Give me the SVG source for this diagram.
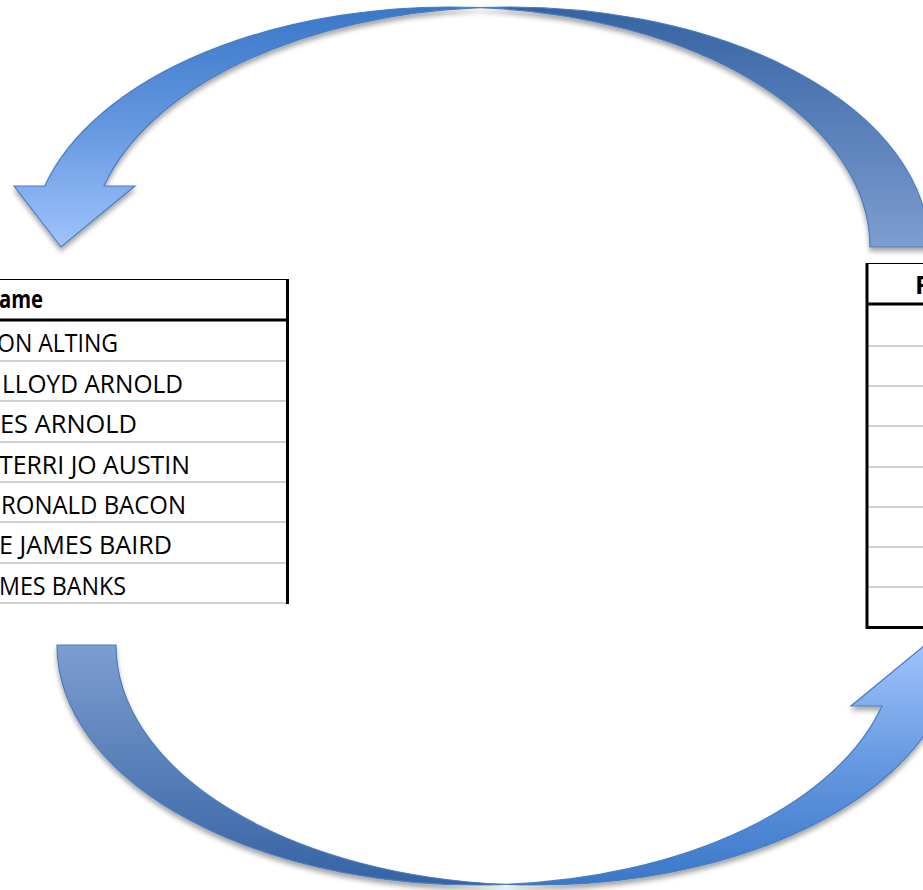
<svg xmlns="http://www.w3.org/2000/svg" width="923" height="890" viewBox="0 0 923 890">
  <style>
    .cell { font-family: "Open Sans", "Liberation Sans", sans-serif; font-size: 25.5px; fill: #000; }
    .hdr { font-weight: bold; }
    .grid { stroke: #d0d0d0; stroke-width: 2; fill: none; }
    .thin { stroke: #000; stroke-width: 1.2; fill: none; }
    .thick { stroke: #000; stroke-width: 3; fill: none; }
    .arrow { stroke: #4a7dbd; stroke-width: 1.2; stroke-linejoin: miter; }
  </style>
  <defs>
    <linearGradient id="gFront" gradientUnits="userSpaceOnUse" x1="0" y1="7" x2="0" y2="247">
      <stop offset="0" stop-color="#3a77c8"/>
      <stop offset="0.5" stop-color="#6598e0"/>
      <stop offset="1" stop-color="#9fc3fd"/>
    </linearGradient>
    <linearGradient id="gBack" gradientUnits="userSpaceOnUse" x1="0" y1="7" x2="0" y2="247">
      <stop offset="0" stop-color="#3563a3"/>
      <stop offset="1" stop-color="#7d9dcf"/>
    </linearGradient>
    <filter id="shadow" x="-10%" y="-10%" width="120%" height="130%">
      <feDropShadow dx="0" dy="4" stdDeviation="2.5" flood-color="#000" flood-opacity="0.35"/>
    </filter>
    <g id="curvedArrow">
      <path class="arrow" fill="url(#gBack)" d="M 480,7.6 A 419.5 240 0 0 1 929,247 L 870,247 A 419.5 240 0 0 0 480,7.6 Z"/>
      <path class="arrow" fill="url(#gFront)" d="M 44.8,186 A 419.5 240 0 0 1 480,7.6 A 419.5 240 0 0 0 104,186 L 135,186 L 61,247 L 14,186 Z"/>
    </g>
  </defs>

  <g id="connectors">
    <g id="arrow-top" filter="url(#shadow)">
      <use href="#curvedArrow"/>
    </g>
    <g id="arrow-bottom" filter="url(#shadow)">
      <use href="#curvedArrow" transform="rotate(180 493 446)"/>
    </g>
  </g>

  <g id="table-left">
    <line class="grid" x1="0" y1="361" x2="287" y2="361"/>
    <line class="grid" x1="0" y1="401" x2="287" y2="401"/>
    <line class="grid" x1="0" y1="442" x2="287" y2="442"/>
    <line class="grid" x1="0" y1="482" x2="287" y2="482"/>
    <line class="grid" x1="0" y1="522" x2="287" y2="522"/>
    <line class="grid" x1="0" y1="563" x2="287" y2="563"/>
    <line class="grid" x1="0" y1="603" x2="287" y2="603"/>
    <line class="thin" x1="0" y1="279.5" x2="288" y2="279.5"/>
    <line class="thick" x1="0" y1="320" x2="288" y2="320"/>
    <line class="thick" x1="287.5" y1="279" x2="287.5" y2="604"/>
    <text class="cell hdr" x="-1" y="308" textLength="44" lengthAdjust="spacingAndGlyphs">ame</text>
    <text class="cell" x="-3" y="352" textLength="121" lengthAdjust="spacingAndGlyphs">ON ALTING</text>
    <text class="cell" x="2" y="392.5" textLength="181" lengthAdjust="spacingAndGlyphs">LLOYD ARNOLD</text>
    <text class="cell" x="0" y="433" textLength="137" lengthAdjust="spacingAndGlyphs">ES ARNOLD</text>
    <text class="cell" x="-1" y="473.5" textLength="191" lengthAdjust="spacingAndGlyphs">TERRI JO AUSTIN</text>
    <text class="cell" x="1" y="514" textLength="185" lengthAdjust="spacingAndGlyphs">RONALD BACON</text>
    <text class="cell" x="-1" y="554" textLength="173" lengthAdjust="spacingAndGlyphs">E JAMES BAIRD</text>
    <text class="cell" x="-1" y="594.5" textLength="127" lengthAdjust="spacingAndGlyphs">MES BANKS</text>
  </g>

  <g id="table-right">
    <line class="grid" x1="868" y1="346" x2="923" y2="346"/>
    <line class="grid" x1="868" y1="386" x2="923" y2="386"/>
    <line class="grid" x1="868" y1="426" x2="923" y2="426"/>
    <line class="grid" x1="868" y1="467" x2="923" y2="467"/>
    <line class="grid" x1="868" y1="507" x2="923" y2="507"/>
    <line class="grid" x1="868" y1="547" x2="923" y2="547"/>
    <line class="grid" x1="868" y1="587" x2="923" y2="587"/>
    <line class="thin" x1="867" y1="263.5" x2="923" y2="263.5"/>
    <line class="thick" x1="867" y1="304" x2="923" y2="304"/>
    <line class="thick" x1="866" y1="627.5" x2="923" y2="627.5"/>
    <line class="thick" x1="867" y1="263" x2="867" y2="629"/>
    <text class="cell hdr" x="915" y="294">F</text>
  </g>
</svg>
